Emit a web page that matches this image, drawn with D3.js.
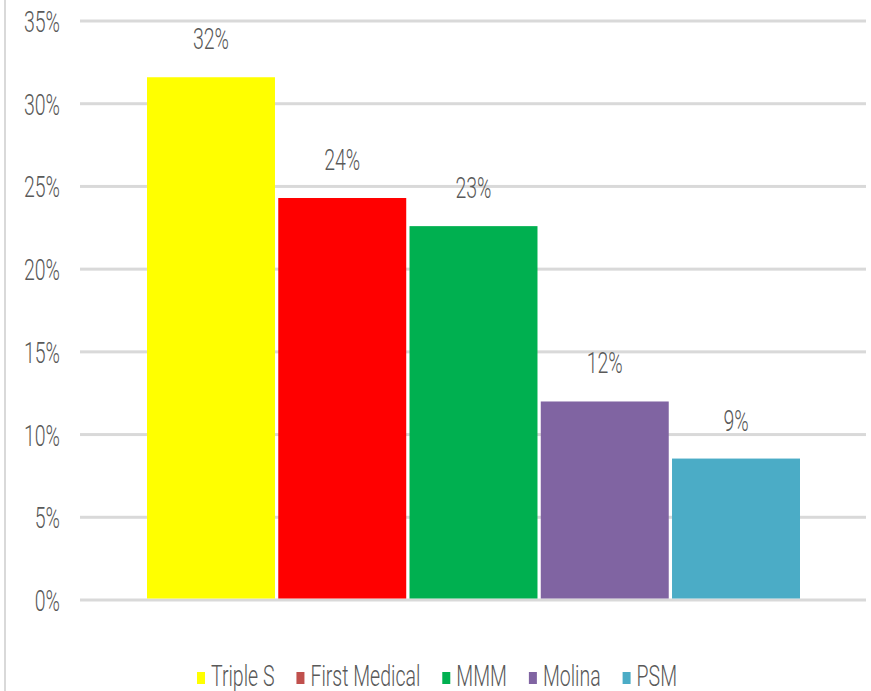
<!DOCTYPE html>
<html>
<head>
<meta charset="utf-8">
<script src="https://cdn.jsdelivr.net/npm/d3@7"></script>
<style>
  html, body { margin: 0; padding: 0; background: #fff; }
  svg { display: block; }
  text { font-family: Roboto, "Liberation Sans", Arial, sans-serif; font-weight: 300; fill: #595959; }
</style>
</head>
<body>
<svg id="chart" width="871" height="691"></svg>
<script>
// ---- data ----
const series = ["Triple S", "First Medical", "MMM", "Molina", "PSM"];
const values = [31.6, 24.3, 22.6, 12.0, 8.55];           // percent
const barColors = ["#FFFF00", "#FF0000", "#00B050", "#8064A2", "#4BACC6"];
const legendColors = ["#FFFF00", "#C0504D", "#00B050", "#8064A2", "#4BACC6"];
const yTicks = [0, 5, 10, 15, 20, 25, 30, 35];

// ---- layout ----
const W = 871, H = 691;
const fontSize = 19.5, sy = 1.55;
const svg = d3.select("#chart");

const y = d3.scaleLinear().domain([0, 35]).range([600, 21]);
const x = d3.scaleBand().domain(series).range([147, 800]).paddingInner(0.025);

// left border
svg.append("rect").attr("x", 4).attr("y", 0).attr("width", 2).attr("height", H).attr("fill", "#d9d9d9");

// gridlines
svg.append("g").selectAll("rect").data(yTicks).join("rect")
  .attr("x", 80).attr("width", 866 - 80)
  .attr("y", d => y(d) - 1.5).attr("height", 3)
  .attr("fill", "#d9d9d9");

// y tick labels
svg.append("g").selectAll("text").data(yTicks).join("text")
  .attr("transform", d => `translate(60,${y(d) + 11}) scale(1,${sy})`)
  .attr("text-anchor", "end")
  .style("font-size", fontSize + "px")
  .text(d => d + "%");

// bars
svg.append("g").selectAll("rect").data(series).join("rect")
  .attr("x", d => x(d))
  .attr("width", x.bandwidth())
  .attr("y", (d, i) => y(values[i]))
  .attr("height", (d, i) => y(0) - 1.5 - y(values[i]))
  .attr("fill", (d, i) => barColors[i]);

// data labels
svg.append("g").selectAll("text").data(series).join("text")
  .attr("transform", (d, i) => `translate(${x(d) + x.bandwidth() / 2},${y(values[i]) - 28}) scale(1,${sy})`)
  .attr("text-anchor", "middle")
  .style("font-size", fontSize + "px")
  .text((d, i) => Math.round(values[i]) + "%");

// legend
const lg = svg.append("g");
let lx = 197;
const legendBase = 686;
series.forEach((s, i) => {
  lg.append("rect").attr("x", lx).attr("y", 672).attr("width", 8).attr("height", 12).attr("fill", legendColors[i]);
  const t = lg.append("text")
    .attr("transform", `translate(${lx + 14},${legendBase}) scale(1,${sy})`)
    .style("font-size", fontSize + "px")
    .text(s);
  const w = t.node().getComputedTextLength();
  lx = lx + 14 + w + 22;
});
</script>
</body>
</html>
